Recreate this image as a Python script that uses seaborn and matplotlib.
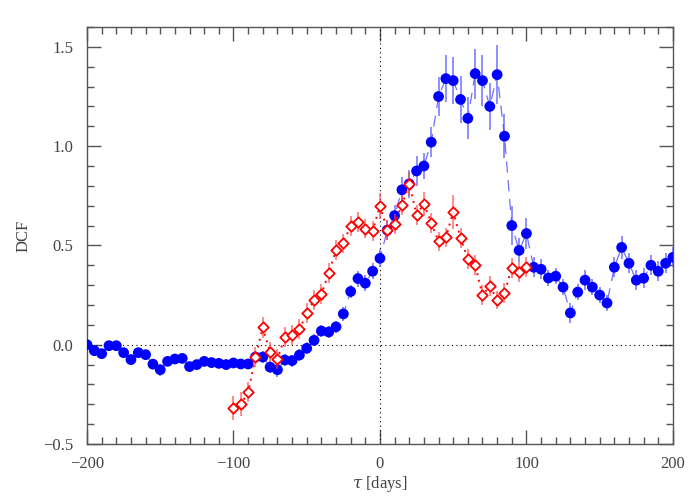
import numpy as np
import pandas as pd
import matplotlib
matplotlib.use("Agg")
import matplotlib.pyplot as plt
import seaborn as sns
from matplotlib.ticker import MultipleLocator

# DCF values (lag step = 5 days)
blue_lag = np.arange(-200, 201, 5)
blue_dcf = [0.00, -0.03, -0.045, -0.005, -0.005, -0.04, -0.075, -0.04, -0.05, -0.098,
            -0.126, -0.084, -0.072, -0.069, -0.11, -0.10, -0.084, -0.09, -0.094, -0.10,
            -0.092, -0.097, -0.097, -0.062, -0.062, -0.113, -0.126, -0.077, -0.08, -0.052,
            -0.018, 0.022, 0.069, 0.064, 0.09, 0.155, 0.268, 0.333, 0.31, 0.37,
            0.435, 0.577, 0.65, 0.78, 0.81, 0.875, 0.90, 1.02, 1.25, 1.34,
            1.33, 1.235, 1.14, 1.365, 1.33, 1.20, 1.36, 1.05, 0.60, 0.475,
            0.56, 0.39, 0.38, 0.336, 0.345, 0.29, 0.16, 0.265, 0.325, 0.29,
            0.25, 0.21, 0.39, 0.49, 0.41, 0.325, 0.335, 0.40, 0.37, 0.41, 0.44]
blue_err = [0.02, 0.025, 0.025, 0.025, 0.025, 0.025, 0.025, 0.025, 0.025, 0.025,
            0.03, 0.025, 0.025, 0.025, 0.025, 0.025, 0.025, 0.025, 0.025, 0.025,
            0.025, 0.025, 0.025, 0.03, 0.03, 0.03, 0.035, 0.03, 0.03, 0.03,
            0.03, 0.03, 0.03, 0.03, 0.03, 0.035, 0.035, 0.04, 0.04, 0.04,
            0.045, 0.05, 0.055, 0.065, 0.07, 0.075, 0.065, 0.075, 0.097, 0.118,
            0.12, 0.12, 0.105, 0.126, 0.13, 0.12, 0.15, 0.11, 0.10, 0.06,
            0.08, 0.05, 0.05, 0.04, 0.04, 0.04, 0.05, 0.04, 0.05, 0.04,
            0.04, 0.04, 0.05, 0.06, 0.05, 0.05, 0.05, 0.05, 0.05, 0.05, 0.05]

red_lag = np.arange(-100, 101, 5)
red_dcf = [-0.317, -0.30, -0.24, -0.062, 0.087, -0.038, -0.07, 0.037, 0.05, 0.077,
           0.16, 0.224, 0.254, 0.36, 0.478, 0.51, 0.60, 0.617, 0.585, 0.572,
           0.70, 0.577, 0.61, 0.705, 0.81, 0.655, 0.71, 0.615, 0.52, 0.54,
           0.67, 0.537, 0.433, 0.40, 0.25, 0.295, 0.227, 0.26, 0.387, 0.365, 0.39]
red_err = [0.06, 0.06, 0.05, 0.05, 0.055, 0.05, 0.05, 0.05, 0.05, 0.05,
           0.05, 0.05, 0.05, 0.05, 0.05, 0.05, 0.05, 0.05, 0.05, 0.05,
           0.065, 0.05, 0.05, 0.05, 0.06, 0.05, 0.06, 0.05, 0.05, 0.05,
           0.085, 0.05, 0.05, 0.05, 0.05, 0.05, 0.045, 0.05, 0.05, 0.05, 0.05]

blue = pd.DataFrame({"lag": blue_lag, "dcf": blue_dcf, "err": blue_err})
red = pd.DataFrame({"lag": red_lag, "dcf": red_dcf, "err": red_err})

sns.set_style("ticks")
plt.rcParams["font.family"] = ["Liberation Serif", "DejaVu Serif"]
plt.rcParams["mathtext.fontset"] = "dejavuserif"

fig = plt.figure(figsize=(7, 5), dpi=100)
ax = fig.add_axes([0.1243, 0.112, 0.837, 0.834])

ax.axhline(0, color="black", lw=0.8, ls=(0, (1, 3)), zorder=1)
ax.axvline(0, color="black", lw=0.8, ls=(0, (1, 3)), zorder=1)

# blue series
ax.vlines(blue["lag"], blue["dcf"] - blue["err"], blue["dcf"] + blue["err"],
          color="#5a5aff", lw=1.2, alpha=0.8, zorder=2)
sns.lineplot(data=blue, x="lag", y="dcf", ax=ax, color="#4b4bff", lw=0.9,
             alpha=0.8, zorder=2)
ax.lines[-1].set_linestyle((0, (9, 6)))
sns.scatterplot(data=blue, x="lag", y="dcf", ax=ax, color="#0000ff", s=60,
                edgecolor="none", zorder=3)

# red series
ax.vlines(red["lag"], red["dcf"] - red["err"], red["dcf"] + red["err"],
          color="#ff4040", lw=1.2, alpha=0.7, zorder=4)
sns.lineplot(data=red, x="lag", y="dcf", ax=ax, color="#ff0000", lw=1.4,
             zorder=4)
ax.lines[-1].set_linestyle((0, (1, 2.5)))
sns.scatterplot(data=red, x="lag", y="dcf", ax=ax, marker="D", s=28,
                facecolor="white", edgecolor="#ff0000", linewidth=1.3, zorder=5)

ax.set_xlim(-200, 200)
ax.set_ylim(-0.5, 1.6)
ax.xaxis.set_major_locator(MultipleLocator(100))
ax.xaxis.set_minor_locator(MultipleLocator(10))
ax.yaxis.set_major_locator(MultipleLocator(0.5))
ax.yaxis.set_minor_locator(MultipleLocator(0.1))
ax.tick_params(which="both", direction="in", top=True, right=True,
               colors="#555555", labelcolor="#444444", labelsize=12)
ax.tick_params(which="major", length=10, width=1)
ax.tick_params(which="minor", length=5, width=1)
ax.tick_params(axis="x", which="major", pad=9)
ax.tick_params(axis="y", which="major", pad=10)
ax.set_yticks([-0.5, 0.0, 0.5, 1.0, 1.5])
ax.set_yticklabels(["\u22120.5", "0.0", "0.5", "1.0", "1.5"])
ax.set_xticks([-200, -100, 0, 100, 200])
ax.set_xticklabels(["\u2212200", "\u2212100", "0", "100", "200"])
for s in ax.spines.values():
    s.set_color("#555555")
    s.set_linewidth(1)

ax.set_xlabel(r"$\tau$ [days]", fontsize=12, color="#444444", labelpad=1)
ax.set_ylabel("DCF", fontsize=12, color="#444444", labelpad=8)

fig.savefig("out.png", dpi=100)
